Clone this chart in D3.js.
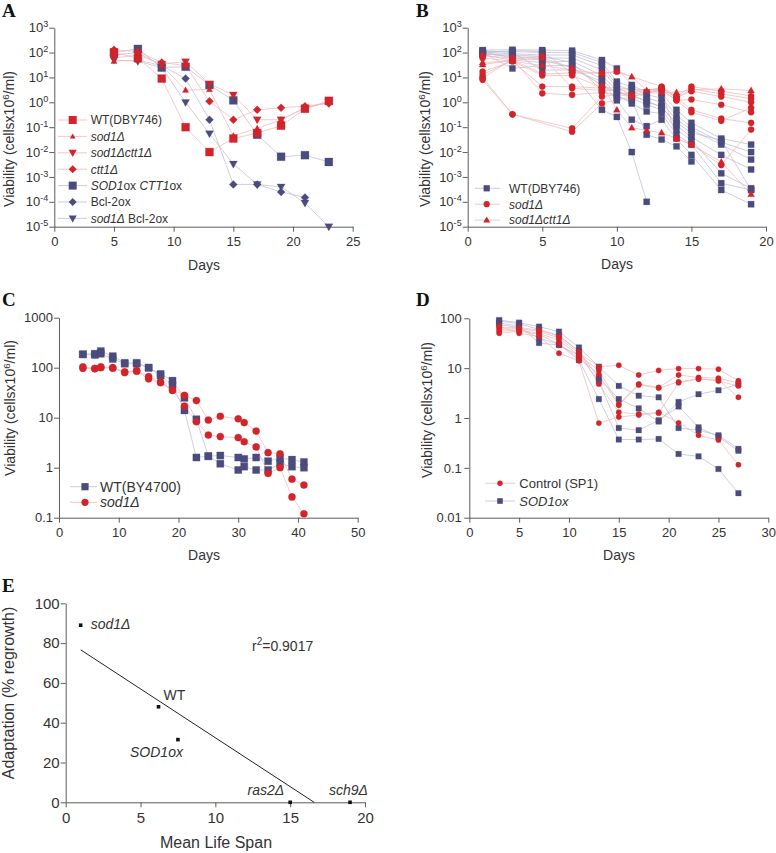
<!DOCTYPE html>
<html><head><meta charset="utf-8">
<script src="https://cdn.jsdelivr.net/npm/d3@7"></script>
<style>body{margin:0;background:#fff}</style>
</head><body>
<svg id="fig" width="776" height="853" xmlns="http://www.w3.org/2000/svg"></svg>
<script>
// ---------------- DATA ----------------
// Panel A (days 5..23)
const daysA = [5,7,9,11,13,15,17,19,21,23];
const A_wt        = [100, 60, 9, 0.1, 0.01, 0.035, 0.058, 0.115, 0.55, 1.15];
const A_sod1      = [45, 50, 30, 3.1, 3.3, 0.045, 0.09, 0.2, 0.6, 1.0];
const A_sod1ctt1  = [60, 80, 35, 43, 5.5, 2.0, 0.2, 0.2, 0.6, 1.0];
const A_ctt1      = [130, 110, 40, 30, 1.1, 0.2, 0.5, 0.6, 0.7, 0.9];
const A_sodctt_ox = [100, 140, 25, 27, 5, 1.2, 0.05, 0.0065, 0.0075, 0.004];
const A_bcl2      = [80, 100, 30, 9, 0.2, 0.0005, 0.0005, 0.00025, 0.00015, null];
const A_sod1bcl2  = [50, 45, 25, 1.0, 0.055, 0.0033, 0.0005, 0.0004, 0.00009, 0.00001];
const A_legend = ["WT(DBY746)", "sod1Δ", "sod1Δctt1Δ", "ctt1Δ", "SOD1ox CTT1ox", "Bcl-2ox", "sod1Δ Bcl-2ox"];

// Panel B (days)
const daysB = [1,3,5,7,9,10,11,12,13,14,15,17,19];
const B_wt = [
  [126, 130, 126, 120, 50, 23, 5, 2.5, 2.3, 0.5, 0.15, 0.035, 0.02],
  [110, 110, 100, 100, 40, 6.8, 4, 2, 1.5, 0.3, 0.1, 0.025, 0.01],
  [100, 90, 80, 80, 30, 5, 3, 1.5, 1, 0.2, 0.08, 0.02, 0.005],
  [90, 70, 60, 60, 20, 4, 2, 1, 0.7, 0.12, 0.04, 0.0077, 0.002],
  [80, 50, 40, 45, 12, 3, 1.5, 0.8, 0.5, 0.08, 0.03, 0.0014, 0.00035],
  [100, 23, 30, 30, 9, 2, 0.9, 0.43, 0.35, 0.05, 0.02, 0.00056, 0.0003],
  [120, 100, 20, 20, 7, 1.2, 0.2, 0.11, 0.2, 0.035, 0.0077, 0.0003, 0.00008],
  [95, 120, 110, 15, 0.5, 0.26, 0.01, 0.0001, null, null, null, null, null],
  [85, 80, 70, 40, 3, 1.6, 1.2, 0.05, 0.032, 0.017, 0.0042, null, null],
  [105, 60, 50, 25, 5, 2.5, 1.8, 1.2, 0.6, 0.15, 0.06, 0.03, 0.0003]
];
const B_sod1 = [
  [8, 0.33, null, 0.066, 0.9, null, null, null, 3.2, 1.2, 1.3, 0.8, 0.4],
  [10, 0.33, null, 0.09, 1.7, null, null, null, 3.8, 1.5, 0.5, 0.22, 0.15],
  [12.6, 50, 14, 15, 15, 17, null, null, 4.3, 1.7, 4.3, 2.8, 1.8],
  [17, 45, 4.3, 4.3, 3.7, null, 2, null, 4, 1.4, 3.5, 2.2, 1.4],
  [9.3, 55, 2.3, 2, 2.5, null, 1.7, null, 3.5, 1.6, 2.8, 1.7, 1.0],
  [75, 60, 70, 3.7, 3, null, null, null, 3.3, 0.035, 0.02, 0.003, 0.08],
  [60, 45, 12, 12, 4, null, null, null, 3.0, 1.2, 0.4, 0.18, 0.6]
];
const B_sod1ctt1 = [
  [33, 50, 60, 25, 5, 0.5, 0.095, 0.075, 0.06, 0.035, 0.02, 0.004, 0.0002],
  [40, 45, 30, 20, 14, 18, 10.7, 3, 2.5, 2.5, 3.2, 3.5, 3.0]
];
const B_legend = ["WT(DBY746)", "sod1Δ", "sod1Δctt1Δ"];

// Panel C
const daysC = [4,6,7,9,11,13,15,17,19,21,23,25,27,30,31,33,35,37,39,41];
const C_wt = [
  [185, 190, 215, 170, 125, 125, 100, 75, 55, 25, 9.3, 1.7, 1.75, 1.6, 1.5, 1.6, 1.35, 1.55, 1.45, 1.3],
  [185, 180, 190, 150, 120, 120, 100, 70, 45, 14, 1.6, 1.7, 1.2, 0.9, 1.05, 0.9, 0.9, 1.2, 1.05, 1.0]
];
const C_sod1 = [
  [104, 97, 104, 100, 83, 87, 66, 52, 36, 28, 22, 9, 10.7, 9.5, 8, 5.4, 2.0, 1.9, 0.59, 0.45],
  [97, 95, 100, 98, 80, 85, 60, 50, 35, 17, 8.3, 4.5, 4.2, 4.0, 3.3, 2.6, 0.77, 1.0, 0.26, 0.12]
];
const C_legend = ["WT(BY4700)", "sod1Δ"];

// Panel D
const daysD = [3,5,7,9,11,13,15,17,19,21,23,25,27];
const D_ctrl = [
  [60, 62, 55, 40, 20, 10.7, 11.4, 7.3, 9, 9.8, 9.8, 9.5, 5.6],
  [55, 58, 50, 36, 18, 9, 1.9, 4.8, 4.1, 7.3, 6.5, 6.3, 5.0],
  [50, 55, 48, 30, 16, 7.5, 1.8, 4.6, 4.0, 5.3, 6.2, 5.5, 4.4],
  [65, 65, 58, 43, 22, 4.8, 1.3, 1.2, 1.3, 0.8, 0.45, 0.36, 0.115],
  [70, 50, 43, 20, 14, 0.79, 1.05, 1.15, 1.25, 5.1, 6.0, 5.8, 2.6]
];
const D_sod1ox = [
  [92, 82, 68, 54, 26, 10.7, 4.4, 2.8, 2.6, 0.63, 0.57, 0.45, 0.24],
  [88, 78, 60, 45, 22, 6.3, 2.4, 1.56, 0.85, 2.1, 3.0, 3.6, 4.8],
  [80, 70, 32, 29, 18, 5.5, 0.63, 0.57, 0.9, 1.7, 0.65, 0.42, 0.22],
  [75, 65, 40, 30, 14.5, 2.4, 0.37, 0.37, 0.38, 0.19, 0.17, 0.095, 0.031]
];
const D_legend = ["Control (SP1)", "SOD1ox"];

// Panel E
const E_names = ["sod1Δ", "WT", "SOD1ox", "ras2Δ", "sch9Δ"];
const E_life  = [1, 6.2, 7.5, 15, 19];
const E_adapt = [89, 48, 31.5, 0, 0];
const E_r2 = "0.9017";

// ---------------- STYLE / LAYOUT ----------------
const FONT = '"Liberation Sans", Arial, Helvetica, sans-serif';
const SERIF = '"Liberation Serif", "Times New Roman", serif';
const RED = '#d2242b', NAVY = '#4b4b7d', RED_L = '#f1b8b8', NAVY_L = '#bdbdd6', AX = '#5c5c5c', TXT = '#333';
const svg = d3.select('#fig');

function marker(type, s) {
  const h = s / 2;
  switch (type) {
    case 'square': return `M${-h},${-h}h${s}v${s}h${-s}Z`;
    case 'circle': return `M${h},0A${h},${h} 0 1,1 ${-h},0A${h},${h} 0 1,1 ${h},0Z`;
    case 'tri': return `M0,${-s*0.6}L${s*0.58},${s*0.42}L${-s*0.58},${s*0.42}Z`;
    case 'tridown': return `M0,${s*0.6}L${s*0.58},${-s*0.42}L${-s*0.58},${-s*0.42}Z`;
    case 'diamond': return `M0,${-s*0.62}L${s*0.62},0L0,${s*0.62}L${-s*0.62},0Z`;
  }
}

function styleAxis(g, fs) {
  g.attr('font-family', FONT).attr('font-size', fs);
  g.select('.domain').attr('stroke', AX).attr('stroke-width', 1);
  g.selectAll('.tick line').attr('stroke', AX).attr('stroke-width', 1);
  g.selectAll('.tick text').attr('fill', TXT).attr('font-size', fs).attr('font-family', FONT);
}

function richText(sel, label, italicAll) {
  if (italicAll) { sel.append('tspan').attr('font-style', 'italic').text(label); return; }
  const parts = label.split(/(sod1Δctt1Δ|sod1Δ|ctt1Δ|SOD1|CTT1|ras2Δ|sch9Δ)/).filter(s => s !== '');
  parts.forEach(p => {
    const it = /^(sod1Δctt1Δ|sod1Δ|ctt1Δ|SOD1|CTT1|ras2Δ|sch9Δ)$/.test(p);
    sel.append('tspan').attr('font-style', it ? 'italic' : 'normal').text(p);
  });
}

function makePanel(p) {
  const g = svg.append('g');
  const x = d3.scaleLinear().domain(p.xDomain).range(p.xRange);
  const y = (p.log ? d3.scaleLog() : d3.scaleLinear()).domain(p.yDomain).range(p.yRange);
  const gx = g.append('g').attr('transform', `translate(0,${p.yRange[0]})`)
    .call(d3.axisBottom(x).tickValues(p.xTicks).tickSize(5).tickSizeOuter(0).tickPadding(p.xPad || 5));
  styleAxis(gx, p.tickFs);
  const yAxis = d3.axisLeft(y).tickValues(p.yTicks).tickSize(5).tickSizeOuter(0).tickPadding(p.yPad || 1);
  if (p.pow) yAxis.tickFormat(() => '');
  else if (p.yFmt) yAxis.tickFormat(p.yFmt);
  const gy = g.append('g').attr('transform', `translate(${p.xRange[0]},0)`).call(yAxis);
  styleAxis(gy, p.tickFs);
  if (p.pow) {
    gy.selectAll('.tick text').each(function (d) {
      const e = Math.round(Math.log10(d));
      const t = d3.select(this);
      t.append('tspan').text('10');
      t.append('tspan').attr('font-size', p.tickFs * 0.7).attr('dy', -5).text(e);
    });
  }
  const yt = g.append('text').attr('transform', `translate(${p.yTitle[0]},${p.yTitle[1]}) rotate(-90)`)
    .attr('text-anchor', 'middle').attr('font-family', FONT).attr('font-size', p.titleFs).attr('fill', TXT);
  if (p.yTitleText) yt.text(p.yTitleText);
  else {
    yt.append('tspan').text('Viability (cellsx10');
    yt.append('tspan').attr('font-size', p.titleFs * 0.7).attr('dy', -5).text('6');
    yt.append('tspan').attr('dy', 5).text('/ml)');
  }
  g.append('text').attr('x', p.xTitle[0]).attr('y', p.xTitle[1]).attr('text-anchor', 'middle')
    .attr('font-family', FONT).attr('font-size', p.titleFs).attr('fill', TXT).text(p.xTitleText || 'Days');
  g.append('text').attr('x', p.letter[0]).attr('y', p.letter[1]).attr('font-family', SERIF)
    .attr('font-weight', 'bold').attr('font-size', 19).attr('fill', '#111').text(p.letterText);
  return { g, x, y };
}

function pointsOf(days, vals) {
  return days.map((d, i) => [d, vals[i]]).filter(q => q[1] != null);
}
function drawLine(P, days, vals, color) {
  const pts = pointsOf(days, vals);
  P.g.append('path').attr('d', d3.line().x(q => P.x(q[0])).y(q => P.y(q[1]))(pts))
    .attr('fill', 'none').attr('stroke', color).attr('stroke-width', 0.75);
}
function drawMarks(P, days, vals, type, size, color) {
  const pts = pointsOf(days, vals);
  P.g.append('g').selectAll('path').data(pts).join('path')
    .attr('transform', q => `translate(${P.x(q[0])},${P.y(q[1])})`)
    .attr('d', marker(type, size)).attr('fill', color)
    .attr('stroke', color).attr('stroke-opacity', 0.4).attr('stroke-width', 0.6);
}
function legend(P, rows, cfg) {
  rows.forEach((r, i) => {
    const yy = cfg.y0 + i * cfg.dy;
    P.g.append('line').attr('x1', cfg.lx0).attr('x2', cfg.lx1).attr('y1', yy).attr('y2', yy)
      .attr('stroke', r.line).attr('stroke-width', 0.8);
    P.g.append('path').attr('transform', `translate(${cfg.mx},${yy})`).attr('d', marker(r.type, r.size)).attr('fill', r.color);
    const t = P.g.append('text').attr('x', cfg.tx).attr('y', yy + cfg.fs * 0.36).attr('font-family', FONT)
      .attr('font-size', cfg.fs).attr('fill', TXT);
    richText(t, r.label, r.italicAll);
  });
}
const decades = (a, b) => d3.range(a, b + 1).map(e => Math.pow(10, e));

// ---------------- PANEL A ----------------
{
  const P = makePanel({ xDomain: [0, 25], xRange: [54.3, 352.7], yDomain: [1e-5, 1e3], yRange: [226.7, 27.7], log: true,
    xTicks: [0, 5, 10, 15, 20, 25], yTicks: decades(-5, 3), pow: true, tickFs: 13, titleFs: 14,
    yTitle: [14, 139], xTitle: [204, 270], letter: [2, 17], letterText: 'A' });
  const S = [
    [A_sodctt_ox, 'square', 8, NAVY, NAVY_L], [A_bcl2, 'diamond', 6.5, NAVY, NAVY_L], [A_sod1bcl2, 'tridown', 7, NAVY, NAVY_L],
    [A_wt, 'square', 8, RED, RED_L], [A_sod1, 'tri', 5.5, RED, RED_L], [A_sod1ctt1, 'tridown', 7, RED, RED_L], [A_ctt1, 'diamond', 6.5, RED, RED_L]
  ];
  S.forEach(s => drawLine(P, daysA, s[0], s[4]));
  S.forEach(s => drawMarks(P, daysA, s[0], s[1], s[2], s[3]));
  legend(P, [
    { label: A_legend[0], type: 'square', size: 8, color: RED, line: RED_L },
    { label: A_legend[1], type: 'tri', size: 5, color: RED, line: RED_L },
    { label: A_legend[2], type: 'tridown', size: 7, color: RED, line: RED_L },
    { label: A_legend[3], type: 'diamond', size: 6.5, color: RED, line: RED_L },
    { label: A_legend[4], type: 'square', size: 8, color: NAVY, line: NAVY_L },
    { label: A_legend[5], type: 'diamond', size: 6.5, color: NAVY, line: NAVY_L },
    { label: A_legend[6], type: 'tridown', size: 7, color: NAVY, line: NAVY_L }
  ], { y0: 120, dy: 16.4, lx0: 58, lx1: 87, mx: 72.7, tx: 90.7, fs: 12 });
}

// ---------------- PANEL B ----------------
{
  const P = makePanel({ xDomain: [0, 20], xRange: [467.7, 766], yDomain: [1e-5, 1e3], yRange: [226.7, 27.7], log: true,
    xTicks: [0, 5, 10, 15, 20], yTicks: decades(-5, 3), pow: true, tickFs: 13, titleFs: 14,
    yTitle: [430, 139], xTitle: [617, 269], letter: [416, 17], letterText: 'B' });
  B_wt.forEach(s => drawLine(P, daysB, s, NAVY_L));
  B_sod1.forEach(s => drawLine(P, daysB, s, RED_L));
  B_sod1ctt1.forEach(s => drawLine(P, daysB, s, RED_L));
  B_wt.forEach(s => drawMarks(P, daysB, s, 'square', 6.2, NAVY));
  B_sod1.forEach(s => drawMarks(P, daysB, s, 'circle', 6.2, RED));
  B_sod1ctt1.forEach(s => drawMarks(P, daysB, s, 'tri', 6, RED));
  legend(P, [
    { label: B_legend[0], type: 'square', size: 6.2, color: NAVY, line: NAVY_L },
    { label: B_legend[1], type: 'circle', size: 6.2, color: RED, line: RED_L },
    { label: B_legend[2], type: 'tri', size: 6, color: RED, line: RED_L }
  ], { y0: 188.3, dy: 15.9, lx0: 475, lx1: 500, mx: 486.7, tx: 509, fs: 12 });
}

// ---------------- PANEL C ----------------
{
  const P = makePanel({ xDomain: [0, 50], xRange: [59, 357.7], yDomain: [0.1, 1000], yRange: [517.7, 317.7], log: true,
    xTicks: [0, 10, 20, 30, 40, 50], yTicks: [0.1, 1, 10, 100, 1000], yFmt: d3.format('~g'), tickFs: 13, titleFs: 14,
    yTitle: [15, 408], xTitle: [204, 560], letter: [2, 306], letterText: 'C' });
  C_wt.forEach(s => drawLine(P, daysC, s, NAVY_L));
  C_sod1.forEach(s => drawLine(P, daysC, s, RED_L));
  C_wt.forEach(s => drawMarks(P, daysC, s, 'square', 7.2, NAVY));
  C_sod1.forEach(s => drawMarks(P, daysC, s, 'circle', 7.2, RED));
  legend(P, [
    { label: C_legend[0], type: 'square', size: 7.2, color: NAVY, line: NAVY_L },
    { label: C_legend[1], type: 'circle', size: 7.2, color: RED, line: RED_L }
  ], { y0: 486.7, dy: 15.6, lx0: 70, lx1: 97, mx: 85, tx: 100, fs: 14 });
}

// ---------------- PANEL D ----------------
{
  const P = makePanel({ xDomain: [0, 30], xRange: [469.3, 768.3], yDomain: [0.01, 100], yRange: [517.7, 318.3], log: true,
    xTicks: [0, 5, 10, 15, 20, 25, 30], yTicks: [0.01, 0.1, 1, 10, 100], yFmt: d3.format('~g'), yPad: 2.5, tickFs: 13, titleFs: 14,
    yTitle: [432, 410], xTitle: [619, 560], letter: [416, 306], letterText: 'D' });
  D_sod1ox.forEach(s => drawLine(P, daysD, s, NAVY_L));
  D_ctrl.forEach(s => drawLine(P, daysD, s, RED_L));
  D_sod1ox.forEach(s => drawMarks(P, daysD, s, 'square', 5.6, NAVY));
  D_ctrl.forEach(s => drawMarks(P, daysD, s, 'circle', 5.4, RED));
  legend(P, [
    { label: D_legend[0], type: 'circle', size: 5.4, color: RED, line: RED_L },
    { label: D_legend[1], type: 'square', size: 5.6, color: NAVY, line: NAVY_L, italicAll: true }
  ], { y0: 483.3, dy: 17.7, lx0: 485, lx1: 515, mx: 500, tx: 519.3, fs: 13 });
}

// ---------------- PANEL E ----------------
{
  const P = makePanel({ xDomain: [0, 20], xRange: [65.7, 365], yDomain: [0, 100], yRange: [802.3, 603.3], log: false,
    xTicks: [0, 5, 10, 15, 20], yTicks: [0, 20, 40, 60, 80, 100], tickFs: 15, titleFs: 16, yPad: 1, xPad: 5,
    yTitle: [14, 693], xTitle: [216, 848], xTitleText: 'Mean Life Span', yTitleText: 'Adaptation (% regrowth)',
    letter: [2, 592], letterText: 'E' });
  // least-squares regression line computed from the data
  const mx = d3.mean(E_life), my = d3.mean(E_adapt);
  const sxy = d3.sum(E_life, (v, i) => (v - mx) * (E_adapt[i] - my));
  const sxx = d3.sum(E_life, v => (v - mx) * (v - mx));
  const b = sxy / sxx, a = my - b * mx;
  const x0 = d3.min(E_life), x1 = -a / b;
  P.g.append('line').attr('x1', P.x(x0)).attr('y1', P.y(a + b * x0)).attr('x2', P.x(x1)).attr('y2', P.y(0))
    .attr('stroke', '#222').attr('stroke-width', 1);
  const pts = E_life.map((v, i) => [v, E_adapt[i]]);
  P.g.append('g').selectAll('path').data(pts).join('path')
    .attr('transform', q => `translate(${P.x(q[0])},${P.y(q[1])})`).attr('d', marker('square', 3.6)).attr('fill', '#111');
  const off = [[10, 4, 'start'], [5, -7, 'start'], [5, 17, 'end'], [-6, -7, 'end'], [-1.5, -7, 'middle']];
  E_names.forEach((n, i) => {
    const t = P.g.append('text').attr('x', P.x(E_life[i]) + off[i][0]).attr('y', P.y(E_adapt[i]) + off[i][1])
      .attr('text-anchor', off[i][2]).attr('font-family', FONT).attr('font-size', 14).attr('fill', TXT);
    richText(t, n, n !== 'WT');
  });
  const r = P.g.append('text').attr('x', 252).attr('y', 651).attr('font-family', FONT).attr('font-size', 14).attr('fill', TXT);
  r.append('tspan').text('r');
  r.append('tspan').attr('font-size', 10).attr('dy', -6).text('2');
  r.append('tspan').attr('dy', 6).text('=' + E_r2);
}
</script>
</body></html>
